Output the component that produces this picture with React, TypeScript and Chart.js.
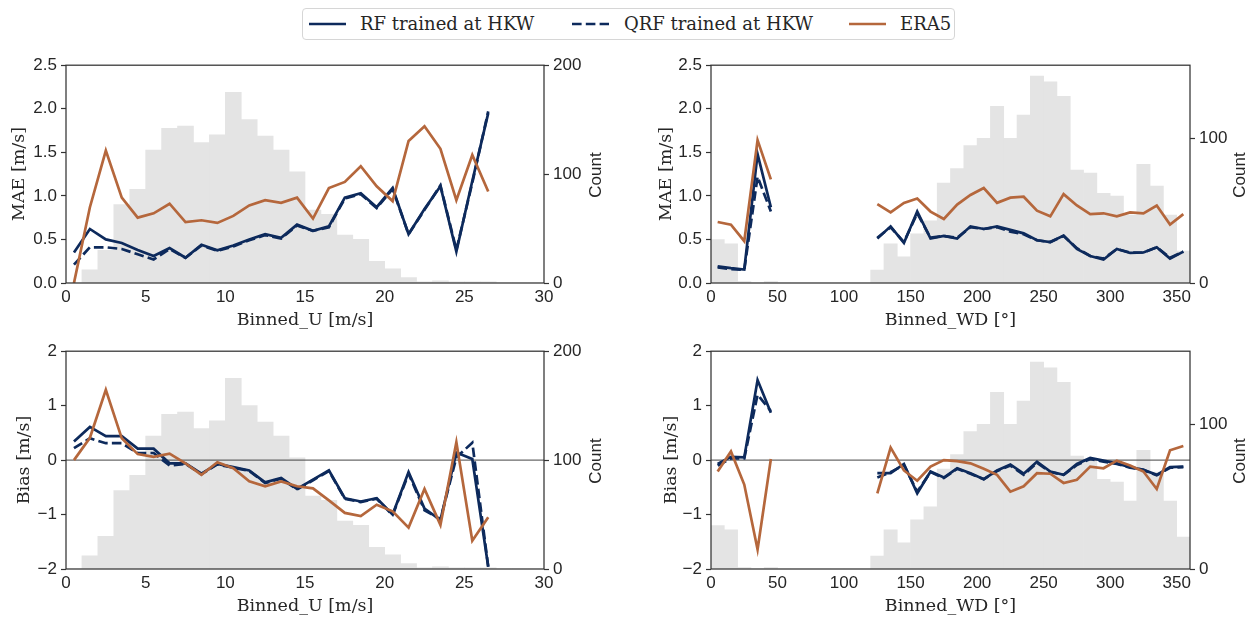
import React, { useEffect, useRef } from 'react';
import { Chart, registerables } from 'chart.js';

Chart.register(...registerables);

// ---------- data ----------
const U_BIN_CENTERS = [0.5, 1.5, 2.5, 3.5, 4.5, 5.5, 6.5, 7.5, 8.5, 9.5, 10.5, 11.5, 12.5, 13.5, 14.5, 15.5, 16.5, 17.5, 18.5, 19.5, 20.5, 21.5, 22.5, 23.5, 24.5, 25.5, 26.5, 27.5, 28.5, 29.5];
const U_COUNTS = [0, 12, 30, 72, 86, 122, 142, 144, 129, 136, 175, 150, 135, 122, 102, 67, 63, 44, 40, 20, 13, 5, 1, 2, 1, 1, 1, 0, 0, 0];

const MAE_U_RF = [0.35, 0.62, 0.5, 0.46, 0.38, 0.31, 0.4, 0.29, 0.44, 0.375, 0.43, 0.5, 0.56, 0.52, 0.67, 0.6, 0.65, 0.98, 1.03, 0.87, 1.09, 0.56, 0.85, 1.11, 0.36, 1.17, 1.95];
const MAE_U_QRF = [0.21, 0.41, 0.41, 0.39, 0.33, 0.27, 0.39, 0.29, 0.43, 0.37, 0.42, 0.49, 0.55, 0.51, 0.66, 0.6, 0.64, 0.97, 1.02, 0.86, 1.08, 0.56, 0.84, 1.12, 0.38, 1.15, 1.97];
const MAE_U_ERA5 = [0.0, 0.87, 1.52, 0.98, 0.75, 0.8, 0.91, 0.7, 0.72, 0.69, 0.77, 0.89, 0.95, 0.92, 0.98, 0.74, 1.09, 1.16, 1.34, 1.11, 0.94, 1.63, 1.8, 1.54, 0.95, 1.47, 1.05];

const BIAS_U_RF = [0.34, 0.61, 0.44, 0.44, 0.21, 0.21, -0.06, -0.06, -0.25, -0.07, -0.13, -0.19, -0.41, -0.33, -0.53, -0.36, -0.19, -0.7, -0.76, -0.7, -1.0, -0.22, -0.89, -1.1, 0.14, 0.02, -1.96];
const BIAS_U_QRF = [0.22, 0.4, 0.31, 0.31, 0.13, 0.13, -0.1, -0.07, -0.26, -0.08, -0.14, -0.2, -0.42, -0.34, -0.54, -0.37, -0.2, -0.71, -0.77, -0.71, -1.01, -0.25, -0.92, -1.09, 0.05, 0.32, -1.96];
const BIAS_U_ERA5 = [0.0, 0.41, 1.29, 0.4, 0.11, 0.06, 0.12, -0.06, -0.27, -0.04, -0.15, -0.39, -0.48, -0.39, -0.48, -0.52, -0.74, -0.97, -1.03, -0.82, -0.94, -1.24, -0.53, -1.19, 0.33, -1.48, -1.05];

const WD_BIN_CENTERS = [5, 15, 25, 35, 45, 55, 65, 75, 85, 95, 105, 115, 125, 135, 145, 155, 165, 175, 185, 195, 205, 215, 225, 235, 245, 255, 265, 275, 285, 295, 305, 315, 325, 335, 345, 355];
const WD_COUNTS = [30, 27, 1, 0, 1, 0, 0, 0, 0, 0, 0, 0, 9, 27, 18, 34, 43, 69, 79, 95, 100, 122, 100, 116, 143, 139, 129, 78, 76, 62, 60, 47, 82, 67, 47, 22];

const MAE_WD_RF = [0.19, 0.17, 0.155, 1.48, 0.87, null, null, null, null, null, null, null, 0.51, 0.65, 0.46, 0.82, 0.51, 0.54, 0.51, 0.65, 0.62, 0.65, 0.61, 0.57, 0.49, 0.47, 0.545, 0.39, 0.31, 0.27, 0.39, 0.345, 0.35, 0.41, 0.28, 0.36];
const MAE_WD_QRF = [0.18, 0.16, 0.15, 1.22, 0.82, null, null, null, null, null, null, null, 0.52, 0.64, 0.47, 0.8, 0.52, 0.54, 0.52, 0.64, 0.62, 0.64, 0.59, 0.56, 0.49, 0.47, 0.54, 0.4, 0.31, 0.28, 0.39, 0.35, 0.35, 0.41, 0.29, 0.36];
const MAE_WD_ERA5 = [0.7, 0.67, 0.48, 1.64, 1.19, null, null, null, null, null, null, null, 0.905, 0.81, 0.92, 0.97, 0.82, 0.735, 0.9, 1.01, 1.09, 0.92, 0.98, 0.99, 0.83, 0.765, 1.02, 0.89, 0.79, 0.8, 0.765, 0.81, 0.8, 0.89, 0.67, 0.79];

const BIAS_WD_RF = [-0.07, 0.06, 0.05, 1.47, 0.87, null, null, null, null, null, null, null, -0.24, -0.24, -0.07, -0.61, -0.21, -0.32, -0.15, -0.24, -0.35, -0.19, -0.08, -0.25, -0.03, -0.21, -0.27, -0.07, 0.04, -0.01, -0.06, -0.13, -0.18, -0.27, -0.13, -0.12];
const BIAS_WD_QRF = [-0.1, 0.03, 0.03, 1.2, 0.9, null, null, null, null, null, null, null, -0.32, -0.22, -0.09, -0.58, -0.22, -0.33, -0.16, -0.25, -0.35, -0.2, -0.1, -0.27, -0.05, -0.22, -0.27, -0.09, 0.02, -0.03, -0.07, -0.14, -0.18, -0.28, -0.14, -0.13];
const BIAS_WD_ERA5 = [-0.21, 0.16, -0.45, -1.64, 0.02, null, null, null, null, null, null, null, -0.61, 0.23, -0.19, -0.38, -0.12, 0.0, -0.02, -0.06, -0.16, -0.27, -0.58, -0.48, -0.24, -0.25, -0.42, -0.36, -0.12, -0.15, -0.01, -0.1, -0.21, -0.53, 0.18, 0.26];

const LEGEND_LABELS = ['RF trained at HKW', 'QRF trained at HKW', 'ERA5'];

// ---------- styles ----------
const NAVY = '#0d2a5c';
const ERA5_COLOR = '#b5673c';
const HIST = '#e4e4e4';
const SPINE = '#333333';
const TEXT = '#262626';
const SANS = '"Liberation Sans", Arial, sans-serif';
const SERIF = '"DejaVu Serif", serif';
const LINE_W = 2.7;
const DASH = [9.6, 4.2];

const LEFT_W = 66;
const RIGHT_W = 45;
const TOP_PAD = 12;
const BOTTOM_H = 30;
const PLOT_H = 220;

type PanelDef = {
  plotLeft: number;
  plotTop: number;
  plotW: number;
  xMin: number; xMax: number; xStep: number;
  yMin: number; yMax: number; yStep: number; yDecimals: number;
  y1Max: number;
  zero: boolean;
  centers: number[];
  counts: number[];
  rf: (number | null)[];
  qrf: (number | null)[];
  era5: (number | null)[];
};

const toPts = (xs: number[], vs: (number | null)[]) => vs.map((v, i) => ({ x: xs[i], y: v }));

const framePlugin = {
  id: 'frame',
  afterDatasetDraw(chart: any, args: any, opts: any) {
    if (args.index === 0 && opts && opts.zero) {
      const { ctx, chartArea } = chart;
      const y = chart.scales.y.getPixelForValue(0);
      ctx.save();
      ctx.strokeStyle = '#444444';
      ctx.lineWidth = 1;
      ctx.beginPath();
      ctx.moveTo(chartArea.left, y);
      ctx.lineTo(chartArea.right, y);
      ctx.stroke();
      ctx.restore();
    }
  },
  afterDatasetsDraw(chart: any) {
    const { ctx, chartArea } = chart;
    ctx.save();
    ctx.strokeStyle = SPINE;
    ctx.lineWidth = 1.25;
    ctx.strokeRect(chartArea.left, chartArea.top, chartArea.right - chartArea.left, chartArea.bottom - chartArea.top);
    ctx.restore();
  },
};

function Panel({ p }: { p: PanelDef }) {
  const ref = useRef<HTMLCanvasElement>(null);
  const W = LEFT_W + p.plotW + RIGHT_W;
  const H = TOP_PAD + PLOT_H + BOTTOM_H;
  useEffect(() => {
    const font = { family: SANS, size: 17 };
    const chart = new Chart(ref.current as HTMLCanvasElement, {
      type: 'line',
      data: {
        datasets: [
          {
            type: 'bar',
            data: toPts(p.centers, p.counts),
            yAxisID: 'y1',
            backgroundColor: HIST,
            borderWidth: 0,
            barPercentage: 1,
            categoryPercentage: 1,
            order: 10,
          } as any,
          {
            type: 'line',
            data: toPts(p.centers, p.rf),
            yAxisID: 'y',
            borderColor: NAVY,
            borderWidth: LINE_W,
            pointRadius: 0,
            spanGaps: false,
            order: 3,
          },
          {
            type: 'line',
            data: toPts(p.centers, p.qrf),
            yAxisID: 'y',
            borderColor: NAVY,
            borderWidth: LINE_W,
            borderDash: DASH,
            pointRadius: 0,
            spanGaps: false,
            order: 2,
          },
          {
            type: 'line',
            data: toPts(p.centers, p.era5),
            yAxisID: 'y',
            borderColor: ERA5_COLOR,
            borderWidth: LINE_W,
            pointRadius: 0,
            spanGaps: false,
            order: 1,
          },
        ],
      },
      options: {
        responsive: false,
        animation: false,
        devicePixelRatio: 1,
        events: [],
        layout: { padding: { top: TOP_PAD, left: 0, right: 0, bottom: 0 } },
        plugins: {
          legend: { display: false },
          tooltip: { enabled: false },
          frame: { zero: p.zero },
        } as any,
        scales: {
          x: {
            type: 'linear',
            min: p.xMin,
            max: p.xMax,
            offset: false,
            grid: { display: false, drawTicks: false, offset: false },
            border: { display: false },
            ticks: {
              stepSize: p.xStep,
              includeBounds: false,
              padding: 4,
              font,
              color: TEXT,
              maxRotation: 0,
              autoSkip: false,
              callback: (v: any) => String(v),
            },
            afterFit: (s: any) => { s.height = BOTTOM_H; },
          },
          y: {
            type: 'linear',
            position: 'left',
            min: p.yMin,
            max: p.yMax,
            grid: { drawOnChartArea: false, drawTicks: true, tickLength: 5, color: SPINE, tickColor: SPINE, tickWidth: 1.2 },
            border: { display: false },
            ticks: {
              stepSize: p.yStep,
              includeBounds: false,
              padding: 4,
              font,
              color: TEXT,
              callback: (v: any) => Number(v).toFixed(p.yDecimals).replace('-', '\u2212'),
            },
            afterFit: (s: any) => { s.width = LEFT_W; },
          },
          y1: {
            type: 'linear',
            position: 'right',
            min: 0,
            max: p.y1Max,
            grid: { drawOnChartArea: false, drawTicks: true, tickLength: 5, color: SPINE, tickColor: SPINE, tickWidth: 1.2 },
            border: { display: false },
            ticks: {
              stepSize: 100,
              includeBounds: false,
              padding: 4,
              font,
              color: TEXT,
              callback: (v: any) => String(v),
            },
            afterFit: (s: any) => { s.width = RIGHT_W; },
          },
        },
      } as any,
      plugins: [framePlugin as any],
    });
    return () => chart.destroy();
  }, []);
  return (
    <canvas
      ref={ref}
      width={W}
      height={H}
      style={{ position: 'absolute', left: p.plotLeft - LEFT_W, top: p.plotTop - TOP_PAD, width: W, height: H }}
    />
  );
}

const PANELS: PanelDef[] = [
  {
    plotLeft: 66, plotTop: 63, plotW: 478,
    xMin: 0, xMax: 30, xStep: 5, yMin: 0, yMax: 2.5, yStep: 0.5, yDecimals: 1, y1Max: 200, zero: false,
    centers: U_BIN_CENTERS, counts: U_COUNTS, rf: MAE_U_RF, qrf: MAE_U_QRF, era5: MAE_U_ERA5,
  },
  {
    plotLeft: 711, plotTop: 63, plotW: 479,
    xMin: 0, xMax: 360, xStep: 50, yMin: 0, yMax: 2.5, yStep: 0.5, yDecimals: 1, y1Max: 150.5, zero: false,
    centers: WD_BIN_CENTERS, counts: WD_COUNTS, rf: MAE_WD_RF, qrf: MAE_WD_QRF, era5: MAE_WD_ERA5,
  },
  {
    plotLeft: 66, plotTop: 349, plotW: 478,
    xMin: 0, xMax: 30, xStep: 5, yMin: -2, yMax: 2, yStep: 1, yDecimals: 0, y1Max: 200, zero: true,
    centers: U_BIN_CENTERS, counts: U_COUNTS, rf: BIAS_U_RF, qrf: BIAS_U_QRF, era5: BIAS_U_ERA5,
  },
  {
    plotLeft: 711, plotTop: 349, plotW: 479,
    xMin: 0, xMax: 360, xStep: 50, yMin: -2, yMax: 2, yStep: 1, yDecimals: 0, y1Max: 150.5, zero: true,
    centers: WD_BIN_CENTERS, counts: WD_COUNTS, rf: BIAS_WD_RF, qrf: BIAS_WD_QRF, era5: BIAS_WD_ERA5,
  },
];

const serifStyle: React.CSSProperties = { position: 'absolute', fontFamily: SERIF, fontSize: 17.5, lineHeight: '17.5px', color: TEXT, whiteSpace: 'nowrap' };
const sansStyle: React.CSSProperties = { position: 'absolute', fontFamily: SANS, fontSize: 17, lineHeight: '17px', color: TEXT, whiteSpace: 'nowrap' };

function XTitle({ text, cx, top }: { text: string; cx: number; top: number }) {
  return <div style={{ ...serifStyle, left: cx, top, transform: 'translateX(-50%)' }}>{text}</div>;
}
function YTitle({ text, cx, cy, sans }: { text: string; cx: number; cy: number; sans?: boolean }) {
  const st = sans ? sansStyle : serifStyle;
  return <div style={{ ...st, left: cx, top: cy, transform: 'translate(-50%, -50%) rotate(-90deg)' }}>{text}</div>;
}

function LegendSample({ dashed, color }: { dashed?: boolean; color: string }) {
  return (
    <svg width={40} height={6} style={{ display: 'block' }}>
      <line x1={1} y1={3} x2={38} y2={3} stroke={color} strokeWidth={LINE_W} strokeDasharray={dashed ? DASH.join(' ') : undefined} />
    </svg>
  );
}

export default function App() {
  const legendColors = [NAVY, NAVY, ERA5_COLOR];
  const sampleXs = [5, 268, 545];
  const textXs = [57, 321, 597];
  return (
    <div style={{ position: 'fixed', left: 0, top: 0, width: 1253, height: 619, background: '#ffffff', overflow: 'hidden' }}>
      {PANELS.map((p, i) => <Panel key={i} p={p} />)}

      <XTitle text="Binned_U [m/s]" cx={305} top={311} />
      <XTitle text="Binned_WD [°]" cx={950.5} top={311} />
      <XTitle text="Binned_U [m/s]" cx={305} top={597} />
      <XTitle text="Binned_WD [°]" cx={950.5} top={597} />

      <YTitle text="MAE [m/s]" cx={19} cy={174} />
      <YTitle text="MAE [m/s]" cx={666} cy={174} />
      <YTitle text="Bias [m/s]" cx={24} cy={460} />
      <YTitle text="Bias [m/s]" cx={671} cy={460} />

      <YTitle text="Count" cx={595} cy={175} sans />
      <YTitle text="Count" cx={1239} cy={175} sans />
      <YTitle text="Count" cx={595} cy={461} sans />
      <YTitle text="Count" cx={1239} cy={461} sans />

      <div style={{ position: 'absolute', left: 302, top: 8, width: 653, height: 32, border: '1px solid #d6d6d6', borderRadius: 4, boxSizing: 'border-box' }}>
        {LEGEND_LABELS.map((lab, i) => (
          <React.Fragment key={lab}>
            <div style={{ position: 'absolute', left: sampleXs[i], top: 12 }}>
              <LegendSample dashed={i === 1} color={legendColors[i]} />
            </div>
            <div style={{ position: 'absolute', left: textXs[i], top: 6, fontFamily: SERIF, fontSize: 18, lineHeight: '18px', color: TEXT, whiteSpace: 'nowrap' }}>{lab}</div>
          </React.Fragment>
        ))}
      </div>
    </div>
  );
}
